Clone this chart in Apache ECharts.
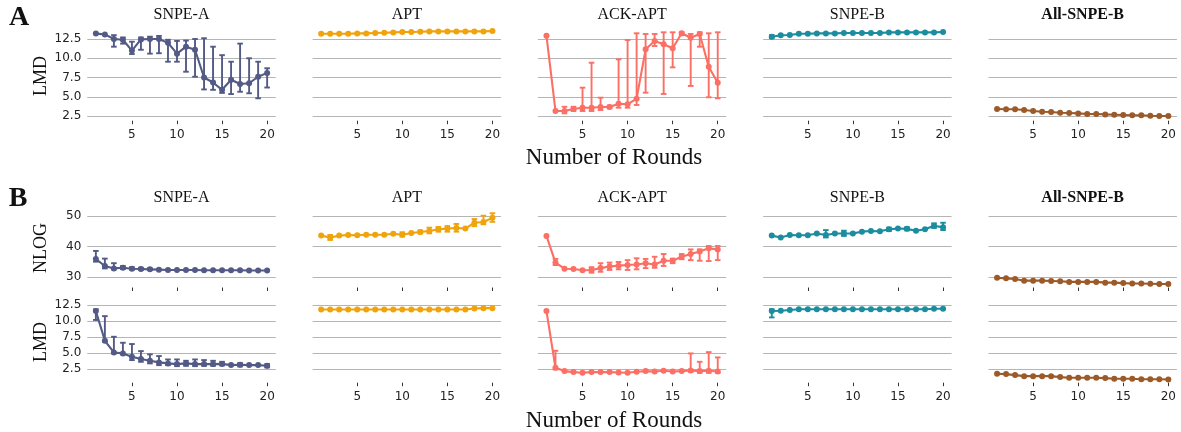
<!DOCTYPE html>
<html>
<head>
<meta charset="utf-8">
<script src="https://cdn.jsdelivr.net/npm/echarts@6/dist/echarts.min.js"></script>
<style>html,body{margin:0;padding:0;background:#fff;}#c{width:1181px;height:432px;}</style>
</head>
<body>
<div id="c"></div>
<script>
// ---------- DATA ----------
const rounds = [1,2,3,4,5,6,7,8,9,10,11,12,13,14,15,16,17,18,19,20];
const methods = ['SNPE-A','APT','ACK-APT','SNPE-B','All-SNPE-B'];
const colors = ['#525a85','#f0a30a','#fb6f64','#1b8d9f','#9c5a29'];
const xTicks = [5,10,15,20];
const lmdTicks = [2.5,5,7.5,10,12.5];
const nlogTicks = [30,40,50];

// Row A: LMD
const A_snpeA    = [13.2,13.1,12.5,12.4,11.0,12.45,12.5,12.5,12.0,10.6,11.5,11.1,7.5,6.85,5.9,7.2,6.65,6.75,7.6,8.1];
const A_snpeA_lo = [null,null,11.5,11.9,10.55,11.1,10.6,10.65,9.55,9.55,8.25,7.6,5.95,5.9,5.5,5.35,5.65,5.45,4.8,6.2];
const A_snpeA_hi = [null,null,13.0,12.7,12.15,12.7,12.8,12.9,12.4,12.25,12.3,12.5,12.6,11.5,10.4,9.55,11.9,10.0,9.55,8.7];
const A_apt      = [13.19,13.19,13.19,13.19,13.23,13.23,13.28,13.32,13.36,13.40,13.40,13.45,13.49,13.49,13.49,13.49,13.49,13.49,13.49,13.54];
const A_ack      = [12.93,3.15,3.15,3.41,3.58,3.58,3.67,3.67,4.1,4.02,4.75,11.16,12.24,11.81,11.29,13.24,12.67,13.15,8.9,6.83];
const A_ack_lo   = [null,null,2.85,3.15,3.15,3.15,3.28,3.5,3.58,3.58,3.93,5.53,11.59,5.36,8.82,13.0,6.4,11.5,4.93,4.8];
const A_ack_hi   = [null,null,3.7,3.7,6.18,9.42,4.88,3.85,9.86,12.37,13.24,13.15,13.15,13.37,13.37,13.37,13.15,13.37,13.24,13.37];
const A_snpeB    = [12.8,12.98,13.02,13.19,13.19,13.23,13.23,13.23,13.28,13.28,13.28,13.28,13.28,13.36,13.36,13.36,13.36,13.36,13.36,13.40];
const A_snpeB_lo = [12.6,null,null,null,null,null,null,null,null,null,null,null,null,null,null,null,null,null,null,null];
const A_snpeB_hi = [13.0,null,null,null,null,null,null,null,null,null,null,null,null,null,null,null,null,null,null,null];
const A_all      = [3.41,3.37,3.37,3.28,3.15,3.06,3.02,2.93,2.89,2.84,2.76,2.76,2.71,2.67,2.63,2.59,2.59,2.54,2.5,2.5];

// Row B top: NLOG
const B_snpeA    = [35.97,33.7,32.9,33.1,32.8,32.7,32.6,32.5,32.4,32.4,32.4,32.4,32.3,32.3,32.3,32.3,32.3,32.2,32.2,32.2];
const B_snpeA_lo = [35.1,32.9,32.6,32.7,32.5,32.4,32.4,null,null,null,null,null,null,null,null,null,null,null,null,null];
const B_snpeA_hi = [38.6,36.1,34.6,33.7,33.3,33.1,32.9,null,null,null,null,null,null,null,null,null,null,null,null,null];
const B_apt      = [43.6,43.0,43.6,43.8,43.7,43.9,43.9,43.9,44.2,43.9,44.45,44.8,45.1,45.65,45.9,46.1,45.9,47.8,48.04,49.4];
const B_apt_lo   = [null,42.2,null,null,null,null,null,null,null,43.3,null,44.3,44.35,44.9,44.9,44.9,null,46.7,47.3,48.1];
const B_apt_hi   = [null,43.8,null,null,null,null,null,null,null,44.7,null,45.3,46.2,46.4,46.7,47.4,null,49.0,50.1,50.9];
const B_ack      = [43.5,34.8,32.8,32.7,32.3,32.4,33.0,33.5,33.8,34.0,34.2,34.6,34.2,35.4,35.4,36.7,37.6,38.4,39.45,39.1];
const B_ack_lo   = [null,34.0,null,null,null,31.5,31.8,32.4,32.6,32.4,32.6,33.0,33.1,33.7,34.6,35.9,35.6,35.4,35.3,35.6];
const B_ack_hi   = [null,36.0,null,null,null,33.3,34.6,34.8,35.0,35.6,36.2,36.0,36.7,37.6,36.1,37.6,39.1,39.1,40.2,40.2];
const B_snpeB    = [43.6,43.0,43.8,43.7,43.7,44.3,43.8,44.3,44.3,44.3,44.9,45.1,45.0,45.65,45.9,45.8,45.2,45.65,46.8,46.3];
const B_snpeB_lo = [null,null,null,null,null,null,43.0,null,43.5,null,null,null,null,45.1,null,45.3,null,null,46.1,45.4];
const B_snpeB_hi = [null,null,null,null,null,null,45.4,null,45.2,null,null,null,null,46.2,null,46.3,null,null,47.6,47.8];
const B_all      = [29.87,29.66,29.45,28.9,28.9,28.9,28.8,28.7,28.5,28.5,28.5,28.5,28.25,28.25,28.1,28.0,28.0,27.9,27.8,27.8];

// Row B bottom: LMD
const C_snpeA    = [11.6,6.93,5.1,4.95,4.42,4.06,3.8,3.54,3.38,3.27,3.38,3.27,3.27,3.27,3.3,3.11,3.17,3.11,3.11,3.0];
const C_snpeA_lo = [10.2,6.78,4.95,4.8,3.9,3.63,3.38,3.11,3.11,2.95,3.0,2.95,3.0,3.0,3.07,null,2.9,null,null,2.75];
const C_snpeA_hi = [11.87,10.8,7.56,6.62,6.42,5.31,4.8,4.53,4.0,4.0,3.79,4.0,3.9,3.79,3.63,null,3.43,null,null,3.27];
const C_apt      = [11.85,11.85,11.85,11.85,11.85,11.85,11.85,11.85,11.85,11.85,11.85,11.85,11.85,11.85,11.85,11.85,11.85,12.0,12.05,12.05];
const C_ack      = [11.6,2.69,2.17,2.01,1.9,2.01,2.01,2.01,1.96,1.9,2.06,2.17,2.11,2.22,2.11,2.17,2.28,2.17,2.22,2.11];
const C_ack_lo   = [null,2.44,null,null,null,null,null,null,null,null,null,null,null,null,null,null,2.06,1.9,1.9,1.9];
const C_ack_hi   = [null,5.36,null,null,null,null,null,null,null,null,null,null,null,null,null,null,4.95,3.63,5.15,4.32];
const C_snpeB    = [11.6,11.65,11.76,11.87,11.87,11.87,11.87,11.87,11.87,11.87,11.87,11.87,11.87,11.87,11.87,11.87,11.87,11.87,11.97,11.97];
const C_snpeB_lo = [10.6,null,null,null,null,null,null,null,null,null,null,null,null,null,null,null,null,null,null,null];
const C_snpeB_hi = [11.87,null,null,null,null,null,null,null,null,null,null,null,null,null,null,null,null,null,null,null];
const C_all      = [1.75,1.7,1.54,1.38,1.38,1.38,1.38,1.23,1.12,1.12,1.12,1.12,1.07,0.96,0.96,0.96,0.9,0.9,0.9,0.85];

const rowsData = [
  [[A_snpeA,A_snpeA_lo,A_snpeA_hi],[A_apt,null,null],[A_ack,A_ack_lo,A_ack_hi],[A_snpeB,A_snpeB_lo,A_snpeB_hi],[A_all,null,null]],
  [[B_snpeA,B_snpeA_lo,B_snpeA_hi],[B_apt,B_apt_lo,B_apt_hi],[B_ack,B_ack_lo,B_ack_hi],[B_snpeB,B_snpeB_lo,B_snpeB_hi],[B_all,null,null]],
  [[C_snpeA,C_snpeA_lo,C_snpeA_hi],[C_apt,null,null],[C_ack,C_ack_lo,C_ack_hi],[C_snpeB,C_snpeB_lo,C_snpeB_hi],[C_all,null,null]]
];

// ---------- LAYOUT ----------
const colLeft0 = 87.3, colStep = 225.3, colWidth = 188.4;
const rowsCfg = [
  {top:39, height:77, ticks:lmdTicks, fmt:v=>v.toFixed(1), xlabels:true, offset:4.7},
  {top:216, height:61.3, ticks:nlogTicks, fmt:v=>String(v), xlabels:false, offset:10.2},
  {top:305.3, height:63.7, ticks:lmdTicks, fmt:v=>v.toFixed(1), xlabels:true, offset:13.7}
];
const tickFont = 'DejaVu Sans';
const serif = 'Liberation Serif';

const grids = [], xAxes = [], yAxes = [], series = [];
rowsCfg.forEach((rc, r) => {
  for (let c = 0; c < 5; c++) {
    const gi = grids.length;
    grids.push({left: colLeft0 + c*colStep, top: rc.top, width: colWidth, height: rc.height, containLabel:false});
    xAxes.push({
      type:'value', gridIndex:gi, min:0.05, max:20.95,
      offset: rc.offset,
      axisLine:{show:false},
      splitLine:{show:false},
      axisTick:{show:true, length:3.5, customValues:xTicks, lineStyle:{color:'#333', width:1}},
      axisLabel:{show:rc.xlabels, customValues:xTicks, margin:8.5, fontFamily:tickFont, fontSize:12, color:'#222'}
    });
    yAxes.push({
      type:'value', gridIndex:gi,
      min: rc.ticks[0], max: rc.ticks[rc.ticks.length-1],
      interval: rc.ticks[1]-rc.ticks[0],
      axisLine:{show:false}, axisTick:{show:false},
      axisLabel:{show:c===0, margin:6, fontFamily:tickFont, fontSize:12, color:'#222', formatter:rc.fmt},
      splitLine:{show:true, lineStyle:{color:'#b5b5b5', width:1.2}}
    });
    const [mean, lo, hi] = rowsData[r][c];
    const col = colors[c];
    if (lo) {
      const eb = [];
      rounds.forEach((x,i)=>{ if (lo[i]!=null && hi[i]!=null) eb.push([x, lo[i], hi[i]]); });
      series.push({
        type:'custom', xAxisIndex:gi, yAxisIndex:gi, clip:false, z:3,
        data: eb,
        renderItem:(params, api)=>{
          const x = api.value(0);
          const p1 = api.coord([x, api.value(1)]);
          const p2 = api.coord([x, api.value(2)]);
          const cw = 2.8;
          const st = {stroke:col, lineWidth:1.9};
          return {type:'group', children:[
            {type:'line', shape:{x1:p1[0], y1:p1[1], x2:p2[0], y2:p2[1]}, style:st},
            {type:'line', shape:{x1:p1[0]-cw, y1:p1[1], x2:p1[0]+cw, y2:p1[1]}, style:st},
            {type:'line', shape:{x1:p2[0]-cw, y1:p2[1], x2:p2[0]+cw, y2:p2[1]}, style:st}
          ]};
        }
      });
    }
    series.push({
      type:'line', xAxisIndex:gi, yAxisIndex:gi, clip:false, z:4,
      data: rounds.map((x,i)=>[x, mean[i]]),
      symbol:'circle', symbolSize:6, showSymbol:true,
      lineStyle:{color:col, width:2.1},
      itemStyle:{color:col},
      animation:false
    });
  }
});

// ---------- TEXT ----------
const graphics = [];
const colCenters = [0,1,2,3,4].map(c => colLeft0 + c*colStep + colWidth/2);
[14.5, 197.5].forEach(ty => {
  methods.forEach((m, c) => {
    graphics.push({type:'text', x:colCenters[c], y:ty, style:{text:m, font:(c===4?'bold ':'')+'16px "'+serif+'"', fill:'#111', align:'center', verticalAlign:'middle'}});
  });
});
graphics.push({type:'text', x:19, y:18, style:{text:'A', font:'bold 28px "'+serif+'"', fill:'#111', align:'center', verticalAlign:'middle'}});
graphics.push({type:'text', x:18, y:199, style:{text:'B', font:'bold 28px "'+serif+'"', fill:'#111', align:'center', verticalAlign:'middle'}});
[[41,76,'LMD'],[41,248,'NLOG'],[41,342,'LMD']].forEach(([x,y,t])=>{
  graphics.push({type:'text', x:x, y:y, rotation:Math.PI/2, style:{text:t, font:'18px "'+serif+'"', fill:'#111', align:'center', verticalAlign:'middle'}});
});
[158, 421].forEach(y=>{
  graphics.push({type:'text', x:614, y:y, style:{text:'Number of Rounds', font:'23px "'+serif+'"', fill:'#111', align:'center', verticalAlign:'middle'}});
});

const chart = echarts.init(document.getElementById('c'), null, {renderer:'canvas'});
chart.setOption({
  animation:false,
  backgroundColor:'#fff',
  grid: grids, xAxis: xAxes, yAxis: yAxes, series: series,
  graphic: graphics
});
</script>
</body>
</html>
